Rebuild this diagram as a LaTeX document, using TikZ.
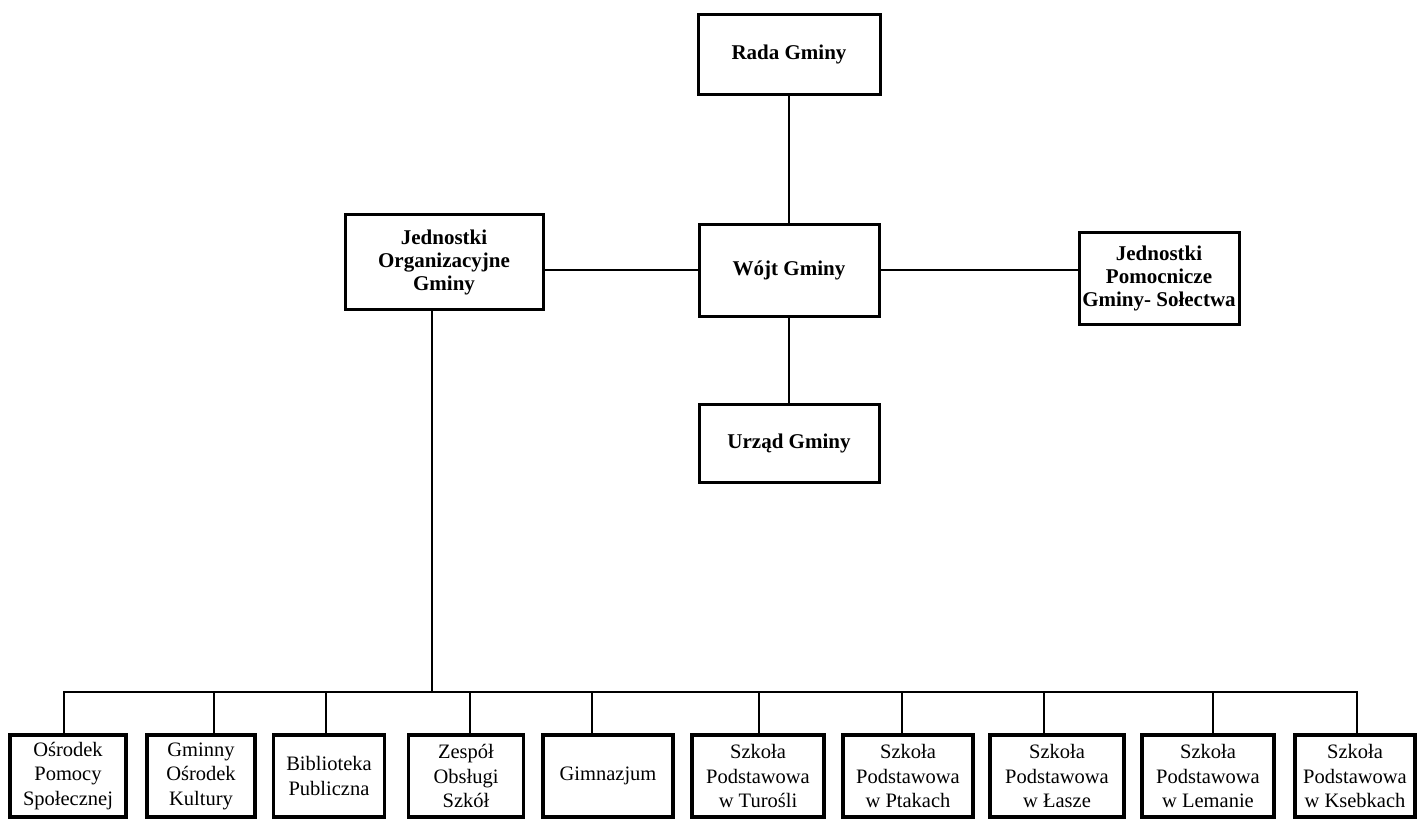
\documentclass[tikz,border=0pt]{standalone}
\usepackage{fontspec}
\setmainfont{Liberation Serif}
\begin{document}
\begin{tikzpicture}[x=1pt,y=-1pt,
  topbox/.style={draw, line width=3pt, align=center, inner sep=0pt,
    font=\fontsize{21}{23}\selectfont\bfseries},
  botbox/.style={draw, line width=3.2pt, align=center, inner sep=0pt,
    minimum height=82pt, font=\fontsize{20.5}{24.5}\selectfont},
  conn/.style={line width=1.5pt}]
\useasboundingbox (0,0) rectangle (1417,827);
% top part
\node[topbox, minimum width=182pt, minimum height=80pt] (rada) at (789,54) {Rada Gminy};
\node[topbox, minimum width=180pt, minimum height=92pt] (wojt) at (789,270) {Wójt Gminy};
\node[topbox, minimum width=198pt, minimum height=95pt] (org) at (444,262) {Jednostki\\Organizacyjne\\Gminy};
\node[topbox, minimum width=160pt, minimum height=92pt] (pom) at (1159,278) {Jednostki\\Pomocnicze\\Gminy- Sołectwa};
\node[topbox, minimum width=180pt, minimum height=78pt] (urzad) at (789,443) {Urząd Gminy};
\draw[conn] (rada.south) -- (wojt.north);
\draw[conn] (wojt.south) -- (urzad.north);
\draw[conn] (wojt.west) -- (wojt.west -| org.east);
\draw[conn] (wojt.east) -- (wojt.east -| pom.west);
% bottom row
\node[botbox, minimum width=116pt] (b1) at (68,776) {Ośrodek\\Pomocy\\Społecznej};
\node[botbox, minimum width=108pt] (b2) at (201,776) {Gminny\\Ośrodek\\Kultury};
\node[botbox, minimum width=111pt] (b3) at (329,776) {Biblioteka\\Publiczna};
\node[botbox, minimum width=115pt] (b4) at (466,776) {Zespół\\Obsługi\\Szkół};
\node[botbox, minimum width=130pt] (b5) at (608,776) {Gimnazjum};
\node[botbox, minimum width=132pt] (b6) at (758,776) {Szkoła\\Podstawowa\\w Turośli};
\node[botbox, minimum width=130pt] (b7) at (908,776) {Szkoła\\Podstawowa\\w Ptakach};
\node[botbox, minimum width=134pt] (b8) at (1057,776) {Szkoła\\Podstawowa\\w Łasze};
\node[botbox, minimum width=132pt] (b9) at (1208,776) {Szkoła\\Podstawowa\\w Lemanie};
\node[botbox, minimum width=120pt] (b10) at (1355,776) {Szkoła\\Podstawowa\\w Ksebkach};
\coordinate (orgdrop) at (432,692);
\draw[conn] (org.south -| orgdrop) -- (orgdrop);
\draw[conn, line cap=rect] ([xshift=-4pt]b1.north |- orgdrop) -- ([xshift=2pt]b10.north |- orgdrop);
\foreach \i/\dx in {1/-4,2/13,3/-3,4/4,5/-16,6/1,7/-6,8/-13,9/5,10/2}
  \draw[conn] ([xshift=\dx pt]b\i.north) -- ([xshift=\dx pt]b\i.north |- orgdrop);
\end{tikzpicture}
\end{document}
